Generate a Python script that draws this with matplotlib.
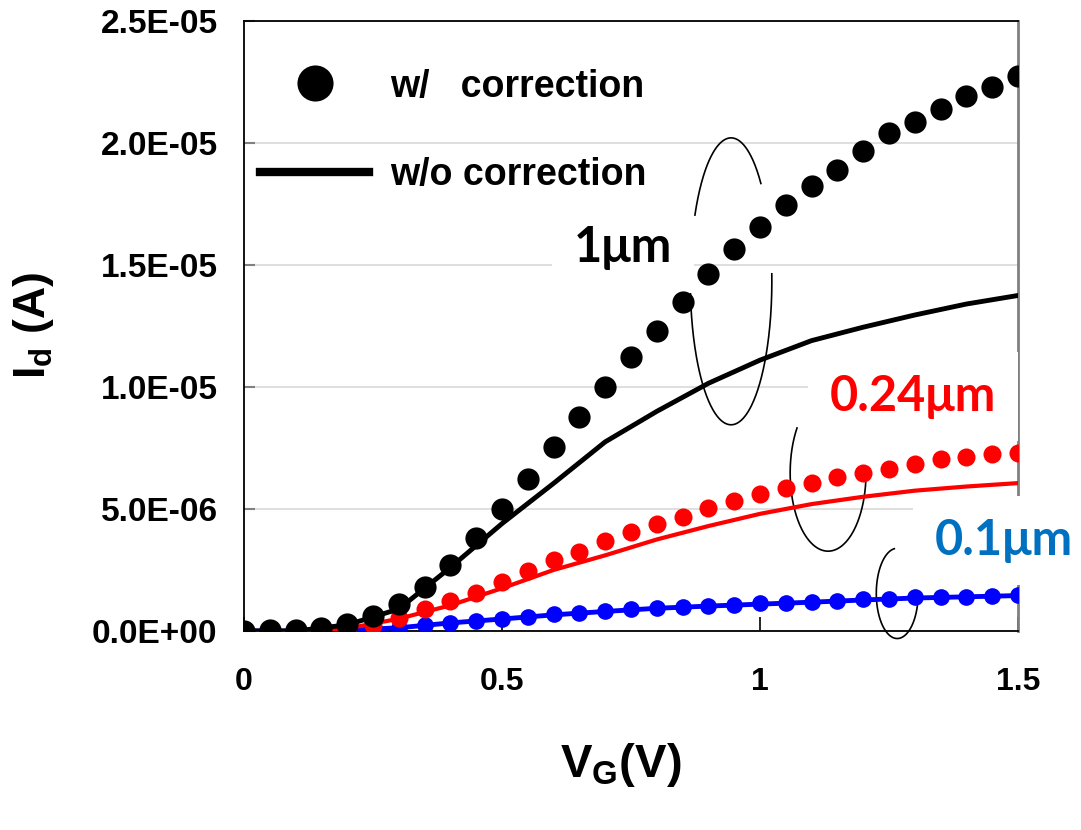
import numpy as np
import matplotlib
matplotlib.use("Agg")
import matplotlib.pyplot as plt
from matplotlib.lines import Line2D
from matplotlib.ticker import FuncFormatter

plt.rcParams["font.family"] = ["Liberation Sans", "DejaVu Sans"]
plt.rcParams["font.weight"] = "bold"
plt.rcParams["mathtext.fontset"] = "custom"
plt.rcParams["mathtext.bf"] = "Liberation Sans:bold"
plt.rcParams["mathtext.rm"] = "Liberation Sans:bold"
plt.rcParams["mathtext.default"] = "bf"

# gate voltage for the "w/ correction" points (V)
vg_dots = [0.0, 0.05, 0.1, 0.15, 0.2, 0.25, 0.3, 0.35, 0.4, 0.45, 0.5,
           0.55, 0.6, 0.65, 0.7, 0.75, 0.8, 0.85, 0.9, 0.95, 1.0,
           1.05, 1.1, 1.15, 1.2, 1.25, 1.3, 1.35, 1.4, 1.45, 1.5]
# gate voltage for the "w/o correction" curves (V)
vg_line = [0.0, 0.1, 0.2, 0.3, 0.4, 0.5, 0.6, 0.7, 0.8, 0.9, 1.0,
           1.1, 1.2, 1.3, 1.4, 1.5]

# drain current in uA, w/ correction
id_1um_w = [0.0, 0.02, 0.04, 0.14, 0.30, 0.60, 1.09, 1.80, 2.72, 3.81, 5.00,
            6.24, 7.55, 8.75, 10.01, 11.21, 12.30, 13.50, 14.62, 15.65, 16.56,
            17.45, 18.23, 18.90, 19.69, 20.42, 20.84, 21.41, 21.93, 22.30, 22.74]
id_024um_w = [0.0, 0.0, 0.01, 0.03, 0.08, 0.25, 0.54, 0.89, 1.23, 1.57, 2.02,
              2.45, 2.90, 3.24, 3.68, 4.05, 4.40, 4.67, 5.04, 5.33, 5.62,
              5.88, 6.08, 6.30, 6.49, 6.64, 6.84, 7.03, 7.14, 7.24, 7.31]
id_01um_w = [0.0, 0.0, 0.0, 0.01, 0.03, 0.07, 0.14, 0.25, 0.34, 0.41, 0.50,
             0.59, 0.68, 0.75, 0.82, 0.89, 0.95, 1.00, 1.03, 1.08, 1.13,
             1.15, 1.20, 1.22, 1.30, 1.33, 1.38, 1.40, 1.41, 1.43, 1.46]

# drain current in uA, w/o correction
id_1um_wo = [0.0, 0.0, 0.25, 0.9, 2.6, 4.4, 6.05, 7.75, 9.0, 10.15, 11.1,
             11.9, 12.45, 12.95, 13.4, 13.75]
id_024um_wo = [0.0, 0.0, 0.1, 0.5, 1.05, 1.75, 2.5, 3.1, 3.75, 4.3, 4.8,
               5.2, 5.5, 5.75, 5.92, 6.06]
id_01um_wo = [0.0, 0.0, 0.03, 0.13, 0.33, 0.49, 0.66, 0.8, 0.93, 1.02, 1.1,
              1.18, 1.27, 1.35, 1.4, 1.45]

legend_labels = ["w/   correction", "w/o correction"]

uA = 1e-6

fig = plt.figure(figsize=(10.81, 8.30), dpi=100)
ax = fig.add_axes([0.2257, 0.2398, 0.7160, 0.7349])

# curves, back to front
ax.plot(vg_line, np.array(id_01um_wo) * uA, color="#0000FF", lw=3.5, zorder=5)
ax.plot(vg_dots, np.array(id_01um_w) * uA, "o", color="#0000FF", ms=12, mew=0, zorder=6)
ax.plot(vg_line, np.array(id_024um_wo) * uA, color="#FF0000", lw=3, zorder=7)
ax.plot(vg_dots, np.array(id_024um_w) * uA, "o", color="#FF0000", ms=13, mew=0, zorder=8)
ax.plot(vg_line, np.array(id_1um_wo) * uA, color="black", lw=3.5, zorder=9)
ax.plot(vg_dots, np.array(id_1um_w) * uA, "o", color="black", ms=16, mew=0, zorder=10)

ax.set_xlim(0, 1.5)
ax.set_ylim(0, 2.5e-5)
ax.set_xticks([0, 0.5, 1, 1.5])
ax.set_xticklabels(["0", "0.5", "1", "1.5"])
ax.set_yticks(np.arange(0, 2.6e-5, 5e-6))
ax.yaxis.set_major_formatter(FuncFormatter(lambda v, p: f"{v:.1E}"))

ax.grid(axis="y", color="#d9d9d9", lw=1.2)
ax.set_axisbelow(True)
ax.tick_params(axis="y", direction="in", length=8, width=1.5, color="#808080",
               labelsize=24, pad=19)
ax.tick_params(axis="x", direction="in", length=10, width=1.2, color="black",
               labelsize=23, pad=26)
for lbl in ax.get_xticklabels() + ax.get_yticklabels():
    lbl.set_fontweight("bold")

for side in ["left", "top", "bottom"]:
    ax.spines[side].set_color("black")
    ax.spines[side].set_linewidth(1.3)
ax.spines["right"].set_color("#808080")
ax.spines["right"].set_linewidth(2)

ax.set_xlabel(r"$V_G$(V)", fontsize=34, fontweight="bold")
ax.xaxis.set_label_coords(0.487, -0.18)
ax.set_ylabel(r"$I_d$ (A)", fontsize=32, fontweight="bold")
ax.yaxis.set_label_coords(-0.243, 0.5)

# legend
handles = [Line2D([], [], marker="o", ls="none", color="black", ms=26, mew=0),
           Line2D([], [], color="black", lw=6)]
ax.legend(handles, legend_labels, loc="upper left", bbox_to_anchor=(0.021, 0.922),
          frameon=False, prop={"size": 27, "weight": "bold"}, handlelength=2.9,
          handletextpad=0.55, labelspacing=1.4, borderpad=0, borderaxespad=0)

# size labels
box = dict(boxstyle="square,pad=0.45", fc="white", ec="none")
ax.text(0.639, 15.73 * uA, "1\u03bcm", fontsize=35, fontweight="bold",
        family="Lato", color="black", va="center", ha="left", bbox=box, zorder=3)
ax.text(1.136, 9.6 * uA, "0.24\u03bcm", fontsize=35, fontweight="bold",
        family="Lato", color="#FF0000", va="center", ha="left", bbox=box, zorder=3)
ax.text(1.339, 3.72 * uA, "0.1\u03bcm", fontsize=35, fontweight="bold",
        family="Lato", color="#0070C0", va="center", ha="left", bbox=box, zorder=3)


# hand-drawn ellipses grouping the curves
def ellipse_arc(cx, cy, a, b, t1, t2):
    t = np.deg2rad(np.linspace(t1, t2, 200))
    ax.plot(cx + a * np.cos(t), (cy + b * np.sin(t)) * uA, color="black",
            lw=1.2, zorder=4, clip_on=False)


ellipse_arc(0.944, 14.33, 0.079, 5.88, 43, 152.5)
ellipse_arc(0.944, 14.33, 0.079, 5.88, 185, 363)
ellipse_arc(1.132, 6.48, 0.0735, 3.21, 145, 357)
ellipse_arc(1.266, 1.54, 0.0406, 1.85, 98, 360)

fig.savefig("out.png", dpi=100)
